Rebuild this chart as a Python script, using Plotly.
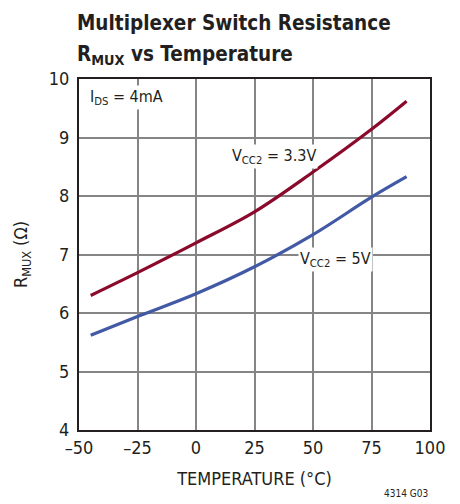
import plotly.graph_objects as go

temp = [-45, -25, 0, 25, 50, 75, 90]
r_33 = [6.30, 6.69, 7.20, 7.73, 8.41, 9.14, 9.62]
r_5 = [5.62, 5.94, 6.33, 6.79, 7.34, 7.98, 8.33]
x_ticks = [-50, -25, 0, 25, 50, 75, 100]
x_labels = ["–50", "–25", "0", "25", "50", "75", "100"]
y_ticks = [4, 5, 6, 7, 8, 9, 10]

FONT = "DejaVu Sans Condensed, DejaVu Sans, sans-serif"
INK = "#231F20"

def f(size):
    return dict(family=FONT, size=size, color=INK)

# page body has an 8px default margin, so the figure is 8px smaller and shifted
W, H = 452, 496
L, T, B = 71, 71, 74
R = 30
PH = H - T - B  # plot height

def py(p):  # div pixel -> paper y
    return (H - B - p) / PH

fig = go.Figure()
fig.add_trace(go.Scatter(x=temp, y=r_33, mode="lines", line=dict(color="#8B0A2B", width=3.2, shape="spline", smoothing=1.0), showlegend=False))
fig.add_trace(go.Scatter(x=temp, y=r_5, mode="lines", line=dict(color="#4259A5", width=3.2, shape="spline", smoothing=1.0), showlegend=False))

fig.update_layout(
    width=W, height=H,
    margin=dict(l=L, r=R, t=T, b=B),
    paper_bgcolor="white", plot_bgcolor="white",
    font=f(17),
    xaxis=dict(range=[-50, 100], tickvals=x_ticks, ticktext=x_labels,
               showgrid=True, gridcolor="#858585", gridwidth=1.5,
               showline=True, linecolor=INK, linewidth=2, mirror=True,
               zeroline=False, ticks="", ticklen=0,
               tickfont=f(18),
               title=dict(text="TEMPERATURE (°C)", font=f(18), standoff=16)),
    yaxis=dict(range=[4, 10], tickvals=y_ticks,
               showgrid=True, gridcolor="#858585", gridwidth=1.5,
               showline=True, linecolor=INK, linewidth=2, mirror=True,
               zeroline=False, ticks="", ticklen=0, ticklabelstandoff=4,
               tickfont=f(18),
               title=dict(text="R<sub>MUX</sub> (Ω)", font=f(18), standoff=16)),
    annotations=[
        dict(text="<b>Multiplexer Switch Resistance</b>", xref="paper", yref="paper",
             x=-0.012, y=py(15.5), xanchor="left", yanchor="middle", showarrow=False,
             font=f(20.5)),
        dict(text="<b>R<sub>MUX</sub> vs Temperature</b>", xref="paper", yref="paper",
             x=-0.012, y=py(47), xanchor="left", yanchor="middle", showarrow=False,
             font=f(20.5)),
        dict(text="I<sub>DS</sub> = 4mA", x=-46.2, y=9.69, xanchor="left", yanchor="middle",
             showarrow=False, bgcolor="white", borderpad=1, font=f(16)),
        dict(text="V<sub>CC2</sub> = 3.3V", x=14.5, y=8.67, xanchor="left", yanchor="middle",
             showarrow=False, bgcolor="white", borderpad=1, font=f(16)),
        dict(text="V<sub>CC2</sub> = 5V", x=43.5, y=6.91, xanchor="left", yanchor="middle",
             showarrow=False, bgcolor="white", borderpad=1, font=f(16)),
        dict(text="4314 G03", xref="paper", yref="paper", x=1, y=py(485),
             xanchor="right", yanchor="middle", showarrow=False, font=f(10)),
    ],
)

fig.write_html("out.html")
